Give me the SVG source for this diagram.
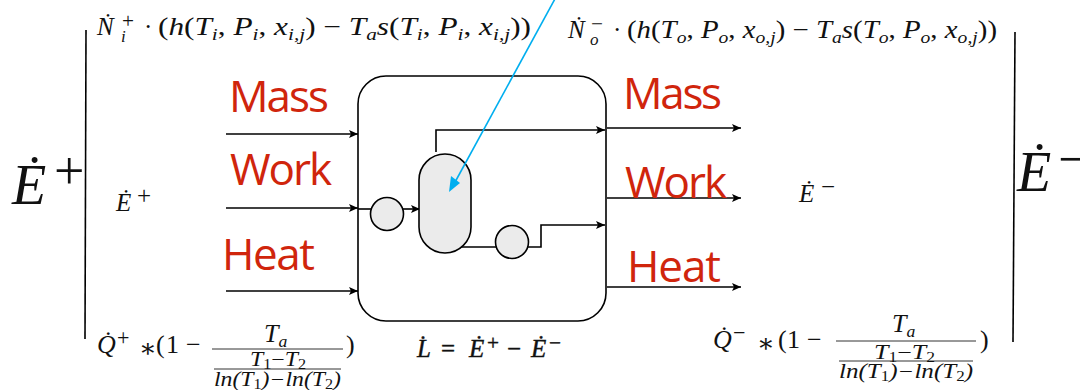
<svg xmlns="http://www.w3.org/2000/svg" width="1080" height="390" viewBox="0 0 1080 390">
<defs>
<marker id="ah" markerUnits="userSpaceOnUse" markerWidth="10" markerHeight="8" refX="9" refY="4" orient="auto"><path d="M0 0L9 4L0 8L2 4Z" fill="#000"/></marker>
</defs>
<style>
.m{font-family:"Liberation Serif","DejaVu Serif",serif;fill:#111}
.i{font-style:italic}
.s{font-size:.68em}
.p{font-size:.85em}
.r{font-family:"Open Sans","Noto Sans",sans-serif;font-size:44px;fill:#d0250c}
.l{fill:none;stroke:#000;stroke-width:1.6}
.w{fill:#fff;stroke:#000;stroke-width:1.6}
.g{fill:#ebebeb;stroke:#000;stroke-width:1.6}
.f{stroke:#333;stroke-width:1;fill:none}
</style>
<rect width="1080" height="390" fill="#fff"/>
<g id="bars"><path class="l" d="M86 30L85 339"/><path class="l" d="M1015 32L1013 342"/></g>
<g id="process"><rect class="w" x="358" y="76" width="248" height="245" rx="28"/></g>
<g id="connectors">
<path class="l" marker-end="url(#ah)" d="M226 134H358"/>
<path class="l" marker-end="url(#ah)" d="M226 208H358"/>
<path class="l" marker-end="url(#ah)" d="M226 291H358"/>
<path class="l" marker-end="url(#ah)" d="M607 128H741"/>
<path class="l" marker-end="url(#ah)" d="M607 198H741"/>
<path class="l" marker-end="url(#ah)" d="M607 287H741"/>
<path class="l" d="M358 209H371"/>
<path class="l" marker-end="url(#ah)" d="M403 209H420"/>
<path class="l" marker-end="url(#ah)" d="M436 152V130H605"/>
<path class="l" marker-end="url(#ah)" d="M459 247H541V225H605"/>
</g>
<g id="capsule"><rect class="g" x="419" y="154" width="52" height="99" rx="26"/></g>
<g id="pump1"><circle class="g" cx="387" cy="214" r="16.5"/></g>
<g id="pump2"><circle class="g" cx="512" cy="242" r="16.5"/></g>
<g id="pointer"><path d="M556 -3L454 184" stroke="#00aeef" stroke-width="1.6" fill="none"/><path d="M449 192L451 176L460 183Z" fill="#00aeef"/></g>
<g id="labels">
<text class="r" x="229" y="112" textLength="100">Mass</text>
<text class="r" x="230" y="185" textLength="102">Work</text>
<text class="r" x="222" y="270" textLength="93">Heat</text>
<text class="r" x="623" y="109" textLength="99">Mass</text>
<text class="r" x="625" y="198" textLength="102">Work</text>
<text class="r" x="627" y="282" textLength="94">Heat</text>
</g>
<g id="formulas">
<text class="m" font-size="25"><tspan class="i" x="97" y="35">Ṅ</tspan><tspan class="p" x="122" y="28">+</tspan><tspan class="s i" x="121" y="42">i</tspan><tspan x="144" y="35">·</tspan></text>
<text class="m" x="158" y="35" font-size="25" textLength="373" lengthAdjust="spacingAndGlyphs">(<tspan class="i">h</tspan>(<tspan class="i">T</tspan><tspan class="s i" dy="5">i</tspan><tspan dy="-5">, </tspan><tspan class="i">P</tspan><tspan class="s i" dy="5">i</tspan><tspan dy="-5">, </tspan><tspan class="i">x</tspan><tspan class="s i" dy="5">i,j</tspan><tspan dy="-5">) − </tspan><tspan class="i">T</tspan><tspan class="s i" dy="5">a</tspan><tspan class="i" dy="-5">s</tspan>(<tspan class="i">T</tspan><tspan class="s i" dy="5">i</tspan><tspan dy="-5">, </tspan><tspan class="i">P</tspan><tspan class="s i" dy="5">i</tspan><tspan dy="-5">, </tspan><tspan class="i">x</tspan><tspan class="s i" dy="5">i,j</tspan><tspan dy="-5">))</tspan></text>
<text class="m" font-size="25"><tspan class="i" x="568" y="38">Ṅ</tspan><tspan class="p" x="591" y="31">−</tspan><tspan class="s i" x="590" y="45">o</tspan><tspan x="613" y="38">·</tspan></text>
<text class="m" x="627" y="38" font-size="25" textLength="370" lengthAdjust="spacingAndGlyphs">(<tspan class="i">h</tspan>(<tspan class="i">T</tspan><tspan class="s i" dy="5">o</tspan><tspan dy="-5">, </tspan><tspan class="i">P</tspan><tspan class="s i" dy="5">o</tspan><tspan dy="-5">, </tspan><tspan class="i">x</tspan><tspan class="s i" dy="5">o,j</tspan><tspan dy="-5">) − </tspan><tspan class="i">T</tspan><tspan class="s i" dy="5">a</tspan><tspan class="i" dy="-5">s</tspan>(<tspan class="i">T</tspan><tspan class="s i" dy="5">o</tspan><tspan dy="-5">, </tspan><tspan class="i">P</tspan><tspan class="s i" dy="5">o</tspan><tspan dy="-5">, </tspan><tspan class="i">x</tspan><tspan class="s i" dy="5">o,j</tspan><tspan dy="-5">))</tspan></text>
<text class="m" x="12" y="204" font-size="56"><tspan class="i">Ė</tspan><tspan font-size="54" x="54" y="189">+</tspan></text>
<text class="m" x="1017" y="191" font-size="56"><tspan class="i">Ė</tspan><tspan font-size="54" x="1058" y="177">−</tspan></text>
<text class="m" font-size="25"><tspan class="i" x="116" y="211">Ė</tspan><tspan x="137" y="204">+</tspan></text>
<text class="m" font-size="25"><tspan class="i" x="799" y="202">Ė</tspan><tspan x="821" y="195">−</tspan></text>
<text class="m" font-size="26"><tspan class="i" x="97" y="353">Q̇</tspan><tspan class="p" x="117" y="345">+</tspan><tspan x="139" y="357">∗</tspan><tspan x="156" y="353">(</tspan><tspan x="166" y="353">1</tspan><tspan x="186" y="353">−</tspan></text>
<text class="m i" x="264" y="342" font-size="26">T<tspan class="s" dy="5">a</tspan></text>
<path class="f" d="M212 349H343M214 369H341"/>
<text class="m i" x="250" y="366" font-size="20" textLength="56" lengthAdjust="spacingAndGlyphs">T<tspan class="s" dy="3" style="font-style:normal">1</tspan><tspan font-style="normal" dy="-3">−</tspan>T<tspan class="s" dy="3" style="font-style:normal">2</tspan></text>
<text class="m i" x="214" y="386" font-size="20" textLength="127" lengthAdjust="spacingAndGlyphs">ln(T<tspan class="s" dy="3" style="font-style:normal">1</tspan><tspan dy="-3">)−ln(T</tspan><tspan class="s" dy="3" style="font-style:normal">2</tspan><tspan dy="-3">)</tspan></text>
<text class="m" x="346" y="353" font-size="26">)</text>
<text class="m" font-size="26"><tspan class="i" x="713" y="348">Q̇</tspan><tspan class="p" x="733" y="340">−</tspan><tspan x="757" y="352">∗</tspan><tspan x="778" y="348">(</tspan><tspan x="787" y="348">1</tspan><tspan x="807" y="348">−</tspan></text>
<text class="m i" x="892" y="332" font-size="26">T<tspan class="s" dy="5">a</tspan></text>
<path class="f" d="M836 341H976M839 361H973"/>
<text class="m i" x="874" y="359" font-size="20" textLength="61" lengthAdjust="spacingAndGlyphs">T<tspan class="s" dy="3" style="font-style:normal">1</tspan><tspan font-style="normal" dy="-3">−</tspan>T<tspan class="s" dy="3" style="font-style:normal">2</tspan></text>
<text class="m i" x="839" y="378" font-size="20" textLength="134" lengthAdjust="spacingAndGlyphs">ln(T<tspan class="s" dy="3" style="font-style:normal">1</tspan><tspan dy="-3">)−ln(T</tspan><tspan class="s" dy="3" style="font-style:normal">2</tspan><tspan dy="-3">)</tspan></text>
<text class="m" x="980" y="348" font-size="26">)</text>
<text class="m" font-size="25" stroke="#111" stroke-width=".4"><tspan class="i" x="417" y="357">L̇</tspan><tspan x="441" y="357">=</tspan><tspan class="i" x="469" y="357">Ė</tspan><tspan class="p" x="487" y="350">+</tspan><tspan x="507" y="357">−</tspan><tspan class="i" x="531" y="357">Ė</tspan><tspan class="p" x="549" y="350">−</tspan></text>
</g>
</svg>
